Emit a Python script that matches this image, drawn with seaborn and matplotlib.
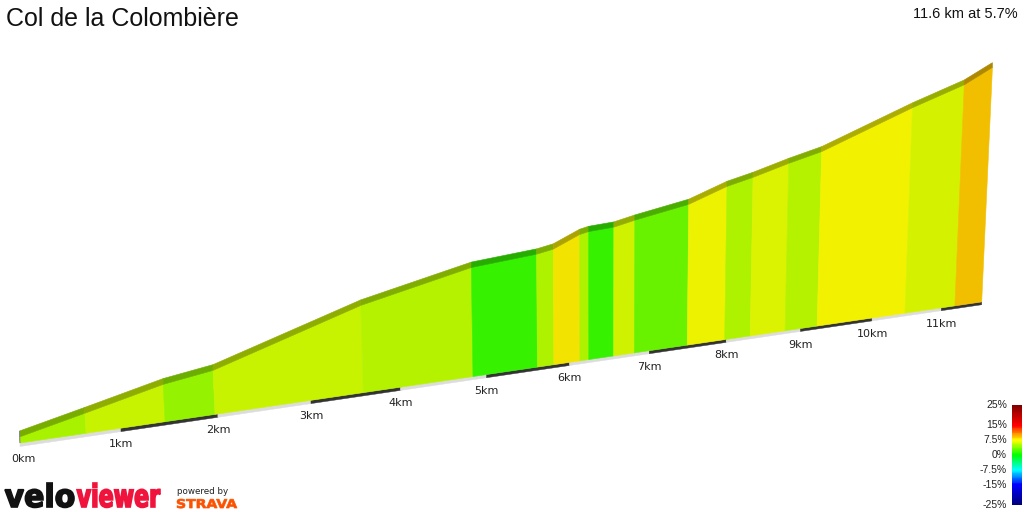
"""
Col de la Colombière - pseudo-3d gradient profile in the VeloViewer style.
"""

import numpy as np
import matplotlib
matplotlib.use("Agg")
import matplotlib.pyplot as plt
import seaborn as sns
from matplotlib.colors import LinearSegmentedColormap
from matplotlib.textpath import TextPath
from matplotlib.patches import PathPatch
from matplotlib.font_manager import FontProperties
from matplotlib.transforms import Affine2D

# segment boundaries of the climb
dist_km = [0.0, 0.65, 1.45, 1.97, 3.58, 4.84, 5.61, 5.81, 6.13, 6.24,
           6.55, 6.81, 7.49, 7.98, 8.32, 8.79, 9.23, 10.47, 11.20, 11.6]
elev_m = [952, 985, 1027, 1044, 1155, 1216, 1230, 1238, 1268, 1273,
          1277, 1289, 1315, 1352, 1369, 1397, 1420, 1518, 1570, 1613]
grade_pct = [5.2, 6.2, 4.5, 6.2, 5.6, 1.6, 5.4, 7.9, 5.4, 1.6,
             6.4, 3.2, 7.4, 5.3, 6.8, 5.5, 7.5, 6.6, 9.0]
km_ticks = list(range(12))
cbar_ticks = [25, 15, 7.5, 0, -7.5, -15, -25]
cbar_labels = ["25%", "15%", "7.5%", "0%", "-7.5%", "-15%", "-25%"]
title = "Col de la Colombière"
summary = "11.6 km at 5.7%"

# view settings (pixels)
X0, Y0 = 20, 443
KM_PX, PERSP = 103.1, 0.021
BASE_SLOPE = 0.1467
M_PX = 0.432
FLOOR = 938
LEAN, LEAN_X = 1.2e-4, 600
TOP_PX, BASE_PX = 6.0, 3.5


def project(d, h):
    d = np.asarray(d, float)
    h = np.asarray(h, float)
    w = 1 + PERSP * d
    xb = X0 + KM_PX * d / w
    yb = Y0 - BASE_SLOPE * (xb - X0)
    hp = (h - FLOOR) * M_PX / w
    xt = xb + hp * LEAN * (xb - LEAN_X)
    return xb, yb, xt, yb - hp, w


grade_cmap = LinearSegmentedColormap.from_list(
    "grade", [(0.0, "#00007a"), (0.2, "#0000ff"), (0.35, "#00ffff"),
              (0.5, "#00ff00"), (0.65, "#ffff00"), (0.8, "#ff0000"),
              (1.0, "#800000")])


def grade_color(g):
    return np.array(grade_cmap((g + 25) / 50.0)[:3])


def logo_word(ax, s, x0, x1, y_base, height, color, fp, lw=0.0):
    tp = TextPath((0, 0), s, prop=fp, size=1)
    bb = tp.get_extents()
    tr = (Affine2D().translate(-bb.x0, 0)
          .scale((x1 - x0) / bb.width, -height / bb.y1)
          .translate(x0, y_base))
    ax.add_patch(PathPatch(tr.transform_path(tp), fc=color,
                           ec=color if lw else "none", lw=lw))


sns.set_theme(style="white")
plt.rcParams["font.family"] = ["Liberation Sans", "DejaVu Sans"]

fig = plt.figure(figsize=(10.24, 5.12), dpi=100)
ax = fig.add_axes([0, 0, 1, 1])
ax.set_xlim(0, 1024)
ax.set_ylim(512, 0)
ax.axis("off")

xb, yb, xt, yt, w = project(dist_km, elev_m)
th = TOP_PX / w

# base strip with alternating km bands
for k in km_ticks:
    d_a, d_b = k, min(k + 1, dist_km[-1])
    bxa, bya, _, _, wa = project(d_a, FLOOR)
    bxb, byb, _, _, wb = project(d_b, FLOOR)
    col = "#333333" if k % 2 else "#dcdcdc"
    ax.fill([bxa, bxb, bxb, bxa],
            [bya, byb, byb + BASE_PX / wb, bya + BASE_PX / wa],
            color=col, lw=0.3, ec=col)

# walls and top strips
for i, g in enumerate(grade_pct):
    c = grade_color(g)
    wall = np.clip(c * 0.95, 0, 1)
    top = np.clip(c * 0.68, 0, 1)
    ax.fill([xb[i], xb[i + 1], xt[i + 1], xt[i]],
            [yb[i], yb[i + 1], yt[i + 1], yt[i]],
            color=wall, ec=wall, lw=0.4)
    ax.fill([xt[i], xt[i + 1], xt[i + 1], xt[i]],
            [yt[i], yt[i + 1], yt[i + 1] - th[i + 1], yt[i] - th[i]],
            color=top, ec=top, lw=0.4)

# end cap at the start
ax.fill([xb[0], xt[0], xt[0], xb[0]],
        [yb[0], yt[0], yt[0] - th[0], yb[0] - th[0]],
        color="#b9b9b9", ec="#888888", lw=0.4)

# km labels
for k in km_ticks:
    kx, ky, _, _, _ = project(k, FLOOR)
    ax.text(kx + (3 if k == 0 else 0), ky + 16, f"{k}km", ha="center",
            va="center", fontsize=8, family="DejaVu Sans", color="#222222")

ax.text(6, 19, title, ha="left", va="center", fontsize=18, color="#111111")
ax.text(1018, 14, summary, ha="right", va="center", fontsize=10.5,
        color="#111111")

# gradient colour bar
cax = fig.add_axes([1012 / 1024, 1 - 505 / 512, 10 / 1024, 100 / 512])
bar = np.linspace(25, -25, 120).reshape(-1, 1)
sns.heatmap(bar, cmap=grade_cmap, vmin=-25, vmax=25, cbar=False, ax=cax,
            xticklabels=False, yticklabels=False)
cax.axis("off")
for v, lab in zip(cbar_ticks, cbar_labels):
    ax.text(1007, 455 - 2 * v, lab, ha="right", va="center", fontsize=7.5,
            color="#222222")

# logos
bold = FontProperties(family="DejaVu Sans", weight="bold")
logo_word(ax, "velo", 5, 74, 507, 24, "#111111", bold, lw=1.2)
logo_word(ax, "viewer", 77, 160, 507, 24, "#f0143c", bold, lw=1.2)
ax.text(177, 492, "powered by", ha="left", va="center", fontsize=6.3,
        family="DejaVu Sans", color="#222222")
logo_word(ax, "STRAVA", 177, 237, 508, 9, "#fc5200", bold, lw=0.5)

fig.savefig("out.png", dpi=100)
